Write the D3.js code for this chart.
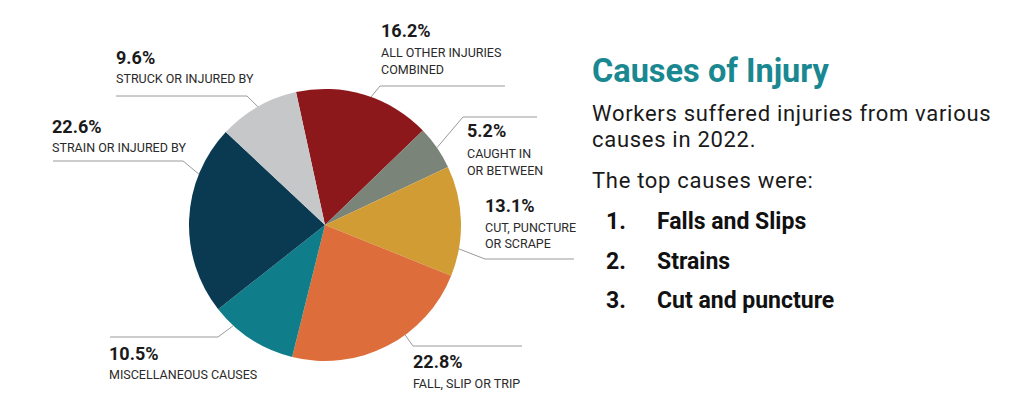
<!DOCTYPE html>
<html>
<head>
<meta charset="utf-8">
<script src="https://cdn.jsdelivr.net/npm/d3@7"></script>
<style>
  body { margin: 0; background: #fff; }
  svg { display: block; font-family: Roboto, "Noto Sans", sans-serif; }
</style>
</head>
<body>
<div id="chart"></div>
<script>
// 数据
const causes = ['ALL OTHER INJURIES COMBINED', 'CAUGHT IN OR BETWEEN', 'CUT, PUNCTURE OR SCRAPE',
  'FALL, SLIP OR TRIP', 'MISCELLANEOUS CAUSES', 'STRAIN OR INJURED BY', 'STRUCK OR INJURED BY'];
const shares = [16.2, 5.2, 13.1, 22.8, 10.5, 22.6, 9.6];
const labelLines = [
  ['ALL OTHER INJURIES', 'COMBINED'],
  ['CAUGHT IN', 'OR BETWEEN'],
  ['CUT, PUNCTURE', 'OR SCRAPE'],
  ['FALL, SLIP OR TRIP'],
  ['MISCELLANEOUS CAUSES'],
  ['STRAIN OR INJURED BY'],
  ['STRUCK OR INJURED BY']
];
const topCauses = ['Falls and Slips', 'Strains', 'Cut and puncture'];

const colors = ['#8c181c', '#7a8479', '#d29c35', '#dd6e3b', '#0f7e8a', '#0a3a52', '#c6c7c9'];

// 标签布局：引线在扇区内的位置 t、拐点、水平线终点、文字位置
const layout = [
  { t: 0.55, ex: 380, ey: 86,  endX: 505, tx: 381, py: 37,  ly: [57, 74] },
  { t: 0.5,  ex: 463, ey: 117, endX: 537, tx: 467, py: 137, ly: [158, 175] },
  { t: 0.75, ex: 485, ey: 259, endX: 574, tx: 485, py: 212, ly: [232, 248] },
  { t: 0.39, ex: 413, ey: 346, endX: 522, tx: 413, py: 368, ly: [388] },
  { t: 0.75, ex: 218, ey: 337, endX: 110, tx: 109, py: 360, ly: [379] },
  { t: 0.74, ex: 183, ey: 161, endX: 53,  tx: 52,  py: 133, ly: [152] },
  { t: 0.5,  ex: 247, ey: 96,  endX: 116, tx: 116, py: 64,  ly: [83] }
];

const W = 1024, H = 411;
const cx = 325, cy = 225, R = 136;
const start = -12.3 * Math.PI / 180;

const svg = d3.select('#chart').append('svg')
  .attr('width', W).attr('height', H);

const pie = d3.pie().sort(null).value(d => d)
  .startAngle(start).endAngle(start + 2 * Math.PI);
const arcs = pie(shares);
const arc = d3.arc().innerRadius(0).outerRadius(R);

const g = svg.append('g').attr('transform', `translate(${cx},${cy})`);
g.selectAll('path')
  .data(arcs)
  .enter().append('path')
  .attr('d', arc)
  .attr('fill', (d, i) => colors[i]);

// 引线
arcs.forEach((a, i) => {
  const L = layout[i];
  const ang = a.startAngle + (a.endAngle - a.startAngle) * L.t;
  const sx = cx + R * Math.sin(ang), sy = cy - R * Math.cos(ang);
  svg.append('polyline')
    .attr('points', `${sx},${sy} ${L.ex},${L.ey} ${L.endX},${L.ey}`)
    .attr('fill', 'none')
    .attr('stroke', '#9a9a9a')
    .attr('stroke-width', 1);

  svg.append('text')
    .attr('x', L.tx).attr('y', L.py)
    .attr('font-size', 18).attr('font-weight', 700).attr('fill', '#1a1a1a')
    .text(shares[i].toFixed(1) + '%');

  labelLines[i].forEach((line, j) => {
    svg.append('text')
      .attr('x', L.tx).attr('y', L.ly[j])
      .attr('font-size', 12.5).attr('fill', '#2a2a2a')
      .text(line);
  });
});

// 右侧文字
const tx = 592;
svg.append('text')
  .attr('x', tx).attr('y', 82)
  .attr('font-size', 32.5).attr('font-weight', 700).attr('fill', '#198891')
  .text('Causes of Injury');

[['Workers suffered injuries from various', 121], ['causes in 2022.', 147], ['The top causes were:', 188]]
  .forEach(([s, y]) => {
    svg.append('text')
      .attr('x', tx).attr('y', y)
      .attr('font-size', 22).attr('letter-spacing', 0.7).attr('fill', '#1a1a1a')
      .text(s);
  });

topCauses.forEach((s, i) => {
  const y = 229 + i * 39.5;
  svg.append('text').attr('x', 606).attr('y', y)
    .attr('font-size', 23).attr('font-weight', 700).attr('fill', '#111')
    .text((i + 1) + '.');
  svg.append('text').attr('x', 657).attr('y', y)
    .attr('font-size', 23).attr('font-weight', 700).attr('fill', '#111')
    .text(s);
});
</script>
</body>
</html>
